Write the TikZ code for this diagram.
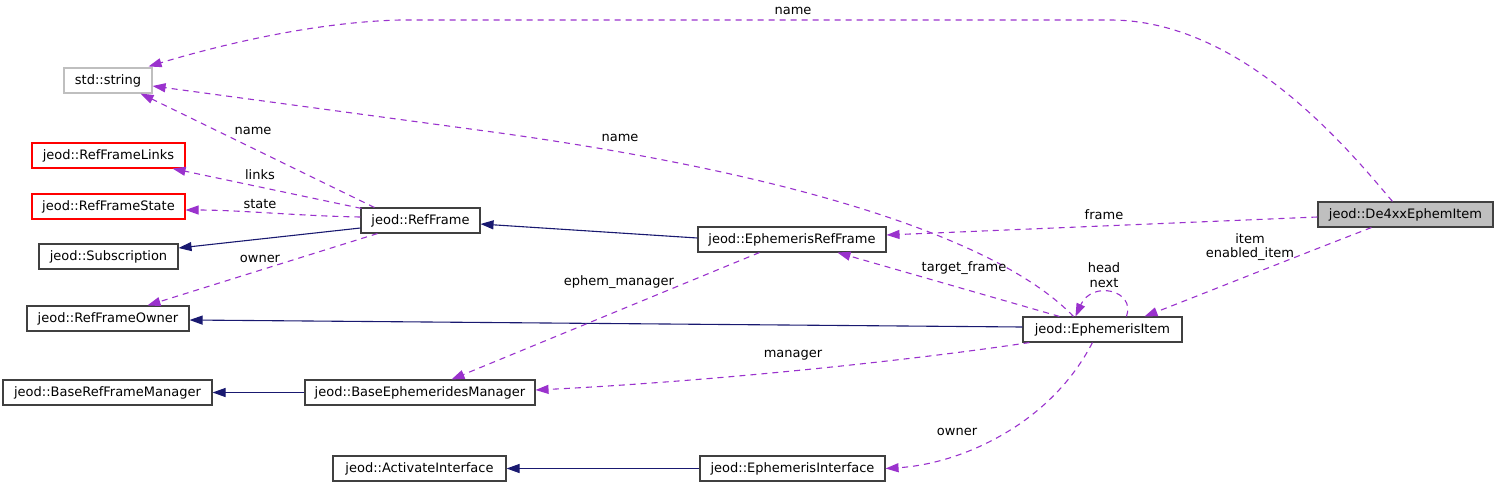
\documentclass[tikz,border=0pt]{standalone}
\usepackage{fontspec}
\setmainfont{DejaVu Sans}
\usetikzlibrary{arrows.meta,calc}
\definecolor{edgepurple}{HTML}{9A32CD}
\definecolor{edgenavy}{HTML}{191970}
\definecolor{boxgray}{HTML}{BFBFBF}
\definecolor{boxline}{HTML}{404040}
\tikzset{
  cls/.style={draw=boxline, line width=1.1pt, minimum height=25pt, inner sep=0pt, font=\fontsize{13}{15}\selectfont},
  redcls/.style={cls, draw=red},
  graycls/.style={cls, draw=boxgray},
  usage/.style={draw=edgepurple, line width=1.1pt, dash pattern=on 6pt off 5pt, -{Triangle[length=13pt,width=9pt,fill=edgepurple]}},
  inherit/.style={draw=edgenavy, line width=1.1pt, -{Triangle[length=13pt,width=9pt,fill=edgenavy]}},
  elabel/.style={font=\fontsize{13}{14.5}\selectfont, inner sep=0pt, align=center},
}
\begin{document}
\begin{tikzpicture}[x=1pt,y=-1pt]
\useasboundingbox (0,0) rectangle (1499,488);
% nodes
\node[graycls, minimum width=88pt]  (str)   at (108,80.5)   {std::string};
\node[redcls, minimum width=153pt]  (links) at (108.5,155.5) {jeod::RefFrameLinks};
\node[redcls, minimum width=153pt]  (state) at (108.5,206.5) {jeod::RefFrameState};
\node[cls, minimum width=139pt]     (subs)  at (108.5,256.5) {jeod::Subscription};
\node[cls, minimum width=162pt]     (owner) at (108,318.5)   {jeod::RefFrameOwner};
\node[cls, minimum width=209pt]     (brfm)  at (107.5,392.5) {jeod::BaseRefFrameManager};
\node[cls, minimum width=173pt]     (act)   at (419.5,468.5) {jeod::ActivateInterface};
\node[cls, minimum width=119pt]     (rf)    at (420.5,220.5) {jeod::RefFrame};
\node[cls, minimum width=188pt]     (erf)   at (792,239.5)   {jeod::EphemerisRefFrame};
\node[cls, minimum width=230pt]     (bem)   at (420,392.5)   {jeod::BaseEphemeridesManager};
\node[cls, minimum width=185pt]     (ei)    at (792.5,468.5) {jeod::EphemerisInterface};
\node[cls, minimum width=159pt]     (item)  at (1102.5,329.5) {jeod::EphemerisItem};
\node[cls, fill=boxgray, minimum width=175pt] (de) at (1405.5,214.5) {jeod::De4xxEphemItem};

% inheritance edges
\draw[inherit] ($(rf.west)+(0,7.5)$) -- ($(subs.east)+(0,-8.5)$);
\draw[inherit] ($(erf.west)+(0,-1.5)$) -- ($(rf.east)+(0,3.5)$);
\draw[inherit] ($(item.west)+(0,-2.5)$) -- ($(owner.east)+(0,1.5)$);
\draw[inherit] (bem.west) -- (brfm.east);
\draw[inherit] (ei.west) -- (act.east);

% usage edges
\draw[usage] ($(de.north west)+(75,0)$) .. controls (1345,145) and (1240,20) .. (1110,20)
   -- (400,20) .. controls (320,22) and (230,42) .. ($(str.north east)+(-4,-1)$);
\node[elabel] (l1) at (793,11) {name};

\draw[usage] ($(item.north west)+(51,0)$) .. controls (1000,240) and (800,175) .. (500,133)
   -- ($(str.east)+(0,5.5)$);
\node[elabel] (l2) at (620,138) {name};

\draw[usage] ($(rf.north west)+(14,0)$) -- ($(str.south east)+(-12,0)$);
\node[elabel] (l3) at (253,131) {name};

\draw[usage] ($(rf.north west)+(1,1)$) -- ($(links.south east)+(-13,0)$);
\node[elabel] (l4) at (260,175) {links};

\draw[usage] ($(rf.west)+(0,-3.5)$) .. controls (300,216) and (240,210) .. ($(state.east)+(0,3.5)$);
\node[elabel] (l5) at (260,204) {state};

\draw[usage] ($(rf.south west)+(17,0)$) -- ($(owner.north west)+(121,0)$);
\node[elabel] (l6) at (260,259) {owner};

\draw[usage] ($(de.west)+(0,2.5)$) -- ($(erf.east)+(0,-4.5)$);
\node[elabel] (l7) at (1104,215) {frame};

\draw[usage] ($(item.north west)+(37,0)$) -- ($(erf.south west)+(140,0)$);
\node[elabel] (l8) at (964,268) {target\_frame};

\draw[usage] ($(item.north west)+(104,0)$) .. controls (1136,290) and (1092,280) .. ($(item.north west)+(53,0)$);
\node[elabel] (l9) at (1104,275) {head\\next};

\draw[usage] ($(de.south west)+(54,0)$) .. controls (1300,255) and (1200,295) .. ($(item.north west)+(122,0)$);
\node[elabel] (l10) at (1250,247) {item\\enabled\_item};

\draw[usage] ($(erf.south west)+(62,0)$) -- ($(bem.north west)+(147,0)$);
\node[elabel] (l11) at (619,282) {ephem\_manager};

\draw[usage] ($(item.south west)+(7,0)$) .. controls (900,362) and (700,382) .. ($(bem.east)+(0,-2.5)$);
\node[elabel] (l12) at (793,355) {manager};

\draw[usage] ($(item.south west)+(70,0)$) .. controls (1050,425) and (960,464) .. (ei.east);
\node[elabel] (l13) at (957,432) {owner};
\end{tikzpicture}
\end{document}
